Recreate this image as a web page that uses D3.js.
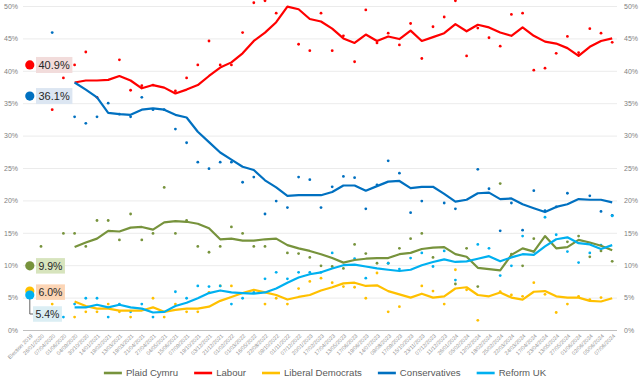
<!DOCTYPE html>
<html>
<head>
<meta charset="utf-8">
<script src="https://cdn.jsdelivr.net/npm/d3@7"></script>
<style>
  body { margin: 0; background: #fff; }
  svg { display: block; font-family: "Liberation Sans", Arial, sans-serif; }
</style>
</head>
<body>
<svg id="chart" width="640" height="380"></svg>
<script>
// category labels (index 0 is the 2019 result, the rest are polls)
const pollDates = ['Election 2019',
  '26/01/2020', '07/04/2020', '01/06/2020', '04/09/2020', '30/10/2020', '14/01/2021', '19/02/2021', '13/03/2021',
  '19/03/2021', '21/04/2021', '27/04/2021', '04/05/2021', '15/06/2021', '07/09/2021', '19/10/2021', '03/12/2021',
  '21/12/2021', '01/02/2022', '01/03/2022', '16/05/2022', '22/08/2022', '09/10/2022', '01/11/2022', '07/12/2022',
  '20/01/2023', '17/02/2023', '17/04/2023', '13/05/2023', '17/06/2023', '19/06/2023', '14/07/2023', '09/08/2023',
  '17/09/2023', '15/10/2023', '23/11/2023', '07/12/2023', '11/12/2023', '26/01/2024', '05/02/2024', '12/02/2024',
  '18/02/2024', '25/02/2024', '22/03/2024', '24/03/2024', '17/04/2024', '23/04/2024', '13/05/2024', '27/05/2024',
  '01/06/2024', '02/06/2024', '05/06/2024', '07/06/2024'];

const parties = ['Plaid Cymru', 'Labour', 'Liberal Democrats', 'Conservatives', 'Reform UK'];
const partyColors = ['#77933c', '#ff0000', '#ffc000', '#0070c0', '#00b0f0'];
const labelFills = ['#d7e4bd', '#f2dcdb', '#fcd5b5', '#dce6f2', '#dbeef4'];
const election2019 = [9.9, 40.9, 6.0, 36.1, 5.4];

// individual polls
const plaidPolls = [null, 12.9, null, 14.9, 14.9, 12.9, 16.9, 16.9, 13.9, 17.9, 13.9, 14.9, 22.0, 14.9, 16.9, 12.9, 12.0,
  12.9, 15.9, 14.9, 12.9, 12.9, null, 11.9, 11.8, 11.2, 9.9, 9.8, 9.5, 13.2, 11.8, 10.3, 10.3, 12.6, 14.1, 14.9, 11.2,
  null, 7.1, 12.6, 6.7, null, 22.6, 11.7, 9.9, 14.1, null, null, 13.6, 14.5, 11.3, 12.2, 10.6];
const labourPolls = [null, null, 34.0, 38.9, 40.9, 42.9, 35.9, null, 41.7, 37.0, 37.7, 37.8, null, 36.9, 38.9, 40.9, 44.6,
  40.9, 40.9, 45.9, 50.5, 50.8, 48.9, null, 44.1, 43.1, 48.9, 43.1, 45.4, 41.4, 49.4, 44.3, 45.8, 44.0, 47.3, 41.9, 46.8,
  48.3, 50.8, 42.3, 46.6, 45.1, 43.8, 48.7, 48.9, 40.1, 40.4, 42.7, 45.3, 42.8, 46.5, 45.8, 44.4];
const libdemPolls = [null, null, 4.0, null, 2.0, 2.8, 2.8, 4.0, 2.8, 2.0, null, 4.9, 2.0, 4.0, 2.8, 2.8, 5.8, 6.8, 6.8,
  null, null, 4.0, 4.9, 4.0, 6.4, 7.5, 8.0, 7.3, 6.7, 6.6, 4.9, 8.8, 2.8, 3.6, null, 6.8, 6.0, 4.0, 9.3, 6.2, 1.5, null,
  5.9, 5.4, 5.2, 7.3, 5.5, 2.7, 4.0, 5.2, 4.7, 5.0, null];
const conPolls = [null, null, 45.9, null, 32.9, 31.9, 32.9, 35.0, 33.3, 32.9, 35.9, 34.0, 34.0, 31.0, 28.9, 25.9, 24.9,
  25.9, 25.9, 22.8, 23.6, 17.9, 19.9, 18.9, 23.6, 23.2, 18.9, 22.1, 23.7, 23.5, 18.7, 22.4, 26.1, 24.2, 18.1, 19.9, null,
  19.6, 18.7, null, 24.8, 21.8, 15.3, 19.6, 15.4, 21.5, 18.4, 19.0, 21.1, null, 20.7, 18.3, 17.7];
const reformPolls = [null, null, null, 2.0, 4.0, 4.9, 4.9, 2.0, 4.0, 2.8, 4.0, 2.0, null, 5.9, 4.9, 6.8, 6.7, 6.8, 4.0,
  4.9, 5.8, 7.9, 8.9, 7.9, 8.9, 8.9, 8.9, 11.9, null, 11.0, 8.0, null, 10.3, 9.4, 11.1, 11.9, 9.8, 12.2, 7.7, null, 13.2,
  12.6, 8.4, 9.9, 14.5, 12.1, 17.4, 14.7, 12.1, 10.4, 11.9, 13.1, 17.6];

// trend lines
const plaidTrend = [null, null, null, null, 12.8, 13.5, 14.1, 15.3, 15.2, 15.8, 15.9, 15.5, 16.6, 16.8, 16.7, 16.4, 15.7,
  14.0, 14.1, 13.8, 13.8, 14.0, 14.1, 13.1, 12.6, 12.2, 11.7, 11.1, 10.4, 10.8, 11.0, 11.1, 11.1, 11.7, 11.9, 12.5, 12.7,
  12.8, 11.7, 11.3, 9.6, 9.4, 9.2, 11.6, 12.6, 12.1, 14.5, 12.6, 12.8, 13.9, 13.5, 13.0, 12.3];
const labourTrend = [null, null, null, null, 38.2, 38.5, 38.5, 38.6, 39.2, 38.5, 37.3, 37.8, 37.4, 36.5, 37.1, 37.8, 39.2,
  40.5, 41.3, 42.7, 44.6, 45.9, 47.5, 49.9, 49.5, 48.0, 47.6, 46.5, 45.0, 44.3, 45.6, 44.6, 45.3, 44.9, 46.2, 44.6, 45.2,
  45.8, 47.2, 46.1, 47.1, 46.7, 45.9, 45.4, 46.7, 45.4, 44.5, 44.2, 43.5, 42.3, 43.7, 44.6, 45.0];
const libdemTrend = [null, null, null, null, 4.4, 3.7, 3.3, 3.3, 3.0, 3.0, 3.0, 3.5, 2.8, 3.1, 3.3, 3.3, 3.6, 4.5, 5.1,
  5.7, 6.2, 5.8, 5.4, 4.7, 5.1, 5.4, 6.1, 6.6, 7.2, 7.3, 6.8, 6.9, 6.0, 5.5, 5.0, 5.6, 5.0, 5.2, 6.4, 6.6, 5.4, 5.2, 5.8,
  5.0, 4.7, 5.9, 6.0, 5.2, 5.0, 5.0, 4.5, 4.4, 4.9];
const conTrend = [null, null, null, null, 38.2, 37.1, 35.9, 33.5, 33.3, 33.2, 34.0, 34.2, 34.0, 33.2, 32.8, 30.6, 29.0,
  27.4, 26.3, 25.2, 24.7, 23.1, 22.0, 20.7, 20.8, 20.8, 20.8, 21.3, 22.3, 22.3, 21.5, 22.2, 22.9, 23.0, 21.9, 22.1, 22.1,
  21.0, 19.8, 20.1, 21.1, 21.2, 20.2, 20.3, 19.4, 18.8, 18.2, 19.0, 19.4, 20.2, 20.1, 20.1, 19.7];
const reformTrend = [null, null, null, null, 3.5, 3.5, 3.9, 3.5, 3.9, 3.5, 3.3, 2.7, 2.8, 3.7, 4.2, 4.9, 5.7, 6.1, 5.8,
  5.7, 5.6, 5.8, 6.4, 7.3, 8.1, 8.6, 8.9, 9.5, 10.0, 10.1, 9.8, 9.5, 9.3, 9.1, 9.3, 10.0, 10.5, 10.9, 10.5, 10.6, 11.0,
  11.4, 10.6, 11.2, 11.7, 11.6, 12.9, 14.0, 14.3, 13.4, 13.2, 12.5, 13.1];

const yTicks = [0, 5, 10, 15, 20, 25, 30, 35, 40, 45, 50];

const polls = [plaidPolls, labourPolls, libdemPolls, conPolls, reformPolls];
const trends = [plaidTrend, labourTrend, libdemTrend, conTrend, reformTrend];

const plot = { left: 23, right: 617, top: 6, bottom: 330 };
const svg = d3.select('#chart');

const x = d3.scalePoint()
  .domain(d3.range(pollDates.length))
  .range([29.8, 612.2]);

const y = d3.scaleLinear()
  .domain([0, 50])
  .range([plot.bottom, plot.top]);

// gridlines
const grid = svg.append('g')
  .attr('transform', `translate(${plot.left},0)`)
  .call(d3.axisLeft(y).tickValues(yTicks).tickSize(-(plot.right - plot.left)).tickFormat(''));
grid.select('.domain').remove();
grid.selectAll('line')
  .attr('stroke', (d) => d === 0 ? '#bfbfbf' : '#e6e6e6')
  .attr('stroke-width', (d) => d === 0 ? 1 : 0.8);

// left and right value labels
const leftAxis = svg.append('g')
  .attr('transform', 'translate(20,0)')
  .call(d3.axisLeft(y).tickValues(yTicks).tickSize(0).tickPadding(2).tickFormat((d) => d + '%'));
const rightAxis = svg.append('g')
  .attr('transform', 'translate(622,0)')
  .call(d3.axisRight(y).tickValues(yTicks).tickSize(0).tickPadding(2).tickFormat((d) => d + '%'));
[leftAxis, rightAxis].forEach((g) => {
  g.select('.domain').remove();
  g.selectAll('text').attr('fill', '#7f7f7f').style('font-size', '7px');
});

// date labels
const xAxis = svg.append('g')
  .attr('transform', `translate(0,${plot.bottom})`)
  .call(d3.axisBottom(x).tickSize(0).tickFormat((i) => pollDates[i]));
xAxis.select('.domain').remove();
xAxis.selectAll('text')
  .attr('x', 0).attr('y', 0).attr('dy', '0.35em')
  .attr('text-anchor', 'end')
  .attr('transform', 'translate(1.5,5) rotate(-45)')
  .attr('fill', '#8c8c8c')
  .style('font-size', '5.4px');

// poll dots
polls.forEach((series, k) => {
  svg.append('g')
    .selectAll('circle')
    .data(series.map((v, i) => ({ i, v })).filter((d) => d.v != null))
    .join('circle')
    .attr('cx', (d) => x(d.i))
    .attr('cy', (d) => y(d.v))
    .attr('r', 1.4)
    .attr('fill', partyColors[k]);
});

// trend lines
const line = d3.line()
  .defined((d) => d.v != null)
  .x((d) => x(d.i))
  .y((d) => y(d.v));

trends.forEach((series, k) => {
  svg.append('path')
    .datum(series.map((v, i) => ({ i, v })))
    .attr('d', line)
    .attr('fill', 'none')
    .attr('stroke', partyColors[k])
    .attr('stroke-width', 2.2)
    .attr('stroke-linejoin', 'round');
});

// 2019 result markers with labels
const ex = x(0);
const labelOffsets = [0, 0, 1, 0, 19];
const labelSizes = [10.5, 11, 10.5, 11, 10.5];

// leader for Reform label
svg.append('path')
  .attr('d', `M${ex},${y(election2019[4]) + 3} V${y(election2019[4]) + labelOffsets[4]} H33`)
  .attr('fill', 'none')
  .attr('stroke', '#404040')
  .attr('stroke-width', 0.8);

election2019.forEach((v, k) => {
  svg.append('circle')
    .attr('cx', ex)
    .attr('cy', y(v))
    .attr('r', 4.6)
    .attr('fill', partyColors[k]);
});

election2019.forEach((v, k) => {
  const cy = y(v) + labelOffsets[k];
  const g = svg.append('g');
  const rect = g.append('rect');
  const t = g.append('text')
    .attr('x', k === 4 ? 35.5 : 38.5)
    .attr('y', cy)
    .attr('dy', '0.36em')
    .attr('fill', '#262626')
    .style('font-size', labelSizes[k] + 'px')
    .text(d3.format('.1f')(v) + '%');
  const bb = t.node().getBBox();
  rect.attr('x', bb.x - 2.5)
    .attr('y', cy - (labelSizes[k] + 5) / 2)
    .attr('width', bb.width + 5)
    .attr('height', labelSizes[k] + 5)
    .attr('fill', labelFills[k]);
});

// legend
const legend = svg.append('g').attr('transform', 'translate(0,373)');
let lx = 0;
const items = parties.map((name, k) => {
  const g = legend.append('g');
  g.append('line')
    .attr('x1', 0).attr('x2', 18)
    .attr('stroke', partyColors[k])
    .attr('stroke-width', 2.6);
  const t = g.append('text')
    .attr('x', 22)
    .attr('dy', '0.35em')
    .attr('fill', '#595959')
    .style('font-size', '9.6px')
    .text(name);
  const w = 22 + t.node().getComputedTextLength();
  g.attr('transform', `translate(${lx},0)`);
  lx += w + 16;
  return g;
});
const total = lx - 16;
legend.attr('transform', `translate(${325 - total / 2},373)`);
</script>
</body>
</html>
